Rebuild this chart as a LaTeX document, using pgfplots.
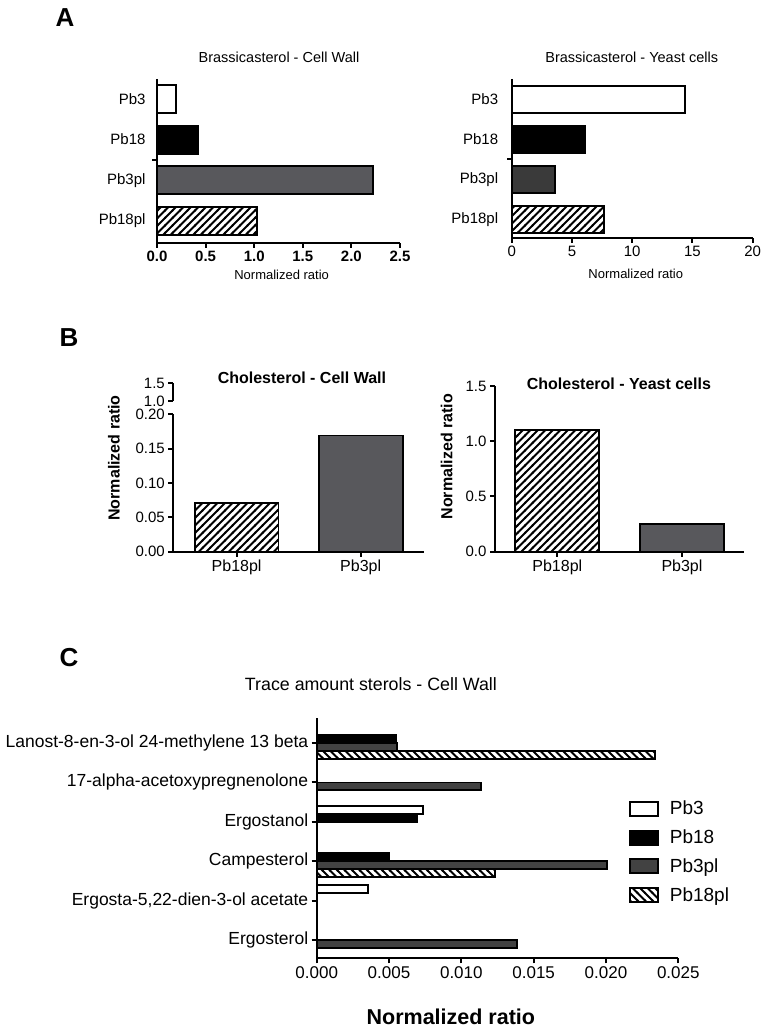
\documentclass[border=0pt]{standalone}
\usepackage{pgfplots}
\pgfplotsset{compat=1.18}
\usepackage{fontspec}
\setmainfont{Liberation Sans}
\usetikzlibrary{patterns}

\newcommand\fs[1]{\fontsize{#1}{#1}\selectfont}

\definecolor{midgray}{RGB}{88,88,92}
\definecolor{dkgray}{RGB}{58,58,58}
\definecolor{cgray}{RGB}{66,66,66}

% thick hatching like the GraphPad fills
\pgfdeclarepatternformonly{hatchNE}{\pgfqpoint{-1pt}{-1pt}}{\pgfqpoint{8.5pt}{8.5pt}}{\pgfqpoint{7.5pt}{7.5pt}}{%
  \pgfsetlinewidth{1.8pt}%
  \pgfpathmoveto{\pgfqpoint{-1pt}{-1pt}}%
  \pgfpathlineto{\pgfqpoint{8.5pt}{8.5pt}}%
  \pgfusepath{stroke}}
\pgfdeclarepatternformonly{hatchNW}{\pgfqpoint{-1pt}{-1pt}}{\pgfqpoint{8.5pt}{8.5pt}}{\pgfqpoint{7.5pt}{7.5pt}}{%
  \pgfsetlinewidth{1.8pt}%
  \pgfpathmoveto{\pgfqpoint{-1pt}{8.5pt}}%
  \pgfpathlineto{\pgfqpoint{8.5pt}{-1pt}}%
  \pgfusepath{stroke}}

\pgfplotsset{
  gp/.style={
    scale only axis, anchor=south west,
    axis x line*=bottom, axis y line*=left,
    axis line style={line width=2pt, -},
    tick style={line width=2pt, black},
    major tick length=5pt,
    tick align=outside,
    every axis title shift=0pt,
    /pgf/number format/assume math mode=true,
    clip=false,
  },
  bars/.style={draw=black, line width=1.8pt},
}

\begin{document}
\begin{tikzpicture}[x=1pt, y=1pt]
\useasboundingbox (0,0) rectangle (762,1028);

% panel letters
\node[font=\fs{26}\bfseries] at (65,1010.5) {A};
\node[font=\fs{26}\bfseries] at (69,690) {B};
\node[font=\fs{26}\bfseries] at (69,370.5) {C};

% ---- A: Brassicasterol - Cell Wall
\begin{axis}[gp, at={(157pt,785pt)}, width=243pt, height=164pt,
  xbar, bar width=0.69, bar shift=0pt,
  xmin=0, xmax=2.5, ymin=-0.49, ymax=3.54, y dir=reverse,
  xtick={0,0.5,1,1.5,2,2.5},
  xticklabel style={font=\fs{15}\bfseries, /pgf/number format/.cd, fixed, fixed zerofill, precision=1},
  ytick={0,1,2,3}, yticklabels={Pb3,Pb18,Pb3pl,Pb18pl},
  ytick style={draw=none}, yticklabel style={font=\fs{15}, xshift=-3pt},
  title={Brassicasterol - Cell Wall},
  title style={font=\fs{14.5}, at={(axis description cs:0.502,1.134)}, anchor=center},
  xlabel={Normalized ratio},
  xlabel style={font=\fs{13}, at={(axis description cs:0.513,-0.195)}, anchor=center},
]
\addplot[bars, fill=white] coordinates {(0.195,0)};
\addplot[bars, fill=black] coordinates {(0.42,1)};
\addplot[bars, fill=midgray] coordinates {(2.225,2)};
\addplot[bars, pattern=hatchNE] coordinates {(1.025,3)};
\draw[line width=2pt] (axis cs:0,1.5) -- ++(-5pt,0pt);
\end{axis}

% ---- A: Brassicasterol - Yeast cells
\begin{axis}[gp, at={(511.7pt,790pt)}, width=241pt, height=159pt,
  xbar, bar width=0.68, bar shift=0pt,
  xmin=0, xmax=20, ymin=-0.51, ymax=3.47, y dir=reverse,
  xtick={0,5,10,15,20}, xticklabel style={font=\fs{15}},
  ytick={0,1,2,3}, yticklabels={Pb3,Pb18,Pb3pl,Pb18pl},
  ytick style={draw=none}, yticklabel style={font=\fs{15}, xshift=-5pt},
  title={Brassicasterol - Yeast cells},
  title style={font=\fs{14.5}, at={(axis description cs:0.498,1.138)}, anchor=center},
  xlabel={Normalized ratio},
  xlabel style={font=\fs{13}, at={(axis description cs:0.515,-0.228)}, anchor=center},
]
\addplot[bars, fill=white] coordinates {(14.38,0)};
\addplot[bars, fill=black] coordinates {(6.1,1)};
\addplot[bars, fill=dkgray] coordinates {(3.6,2)};
\addplot[bars, pattern=hatchNE] coordinates {(7.69,3)};
\draw[line width=2pt] (axis cs:0,1.5) -- ++(-5pt,0pt);
\end{axis}

% ---- B: Cholesterol - Cell Wall (broken y axis)
\begin{axis}[gp, at={(173.3pt,476.3pt)}, width=250.7pt, height=137.4pt,
  ybar, bar width=0.676, bar shift=0pt,
  xmin=-0.51, xmax=1.51, ymin=0, ymax=0.2,
  xtick={0,1}, xticklabels={Pb18pl,Pb3pl}, xticklabel style={font=\fs{16}},
  ytick={0,0.05,0.1,0.15,0.2},
  yticklabel style={font=\fs{15}, /pgf/number format/.cd, fixed, fixed zerofill, precision=2},
  title={Cholesterol - Cell Wall},
  title style={font=\fs{16}\bfseries, at={(axis description cs:0.513,1.266)}, anchor=center},
  ylabel={Normalized ratio},
  ylabel style={font=\fs{16}\bfseries, at={(axis description cs:-0.237,0.682)}, anchor=center},
]
\addplot[bars, pattern=hatchNE] coordinates {(0,0.0714)};
\addplot[bars, fill=midgray] coordinates {(1,0.169)};
\end{axis}
\begin{axis}[gp, at={(173.3pt,627pt)}, width=250.7pt, height=17.7pt,
  hide x axis, xmin=0, xmax=1, ymin=1, ymax=1.5,
  ytick={1,1.5},
  yticklabel style={font=\fs{15}, /pgf/number format/.cd, fixed, fixed zerofill, precision=1},
]
\end{axis}

% ---- B: Cholesterol - Yeast cells
\begin{axis}[gp, at={(495pt,476.3pt)}, width=249.3pt, height=165.7pt,
  ybar, bar width=0.674, bar shift=0pt,
  xmin=-0.5, xmax=1.5, ymin=0, ymax=1.5,
  xtick={0,1}, xticklabels={Pb18pl,Pb3pl}, xticklabel style={font=\fs{16}},
  ytick={0,0.5,1,1.5},
  yticklabel style={font=\fs{15}, /pgf/number format/.cd, fixed, fixed zerofill, precision=1},
  title={Cholesterol - Yeast cells},
  title style={font=\fs{16}\bfseries, at={(axis description cs:0.497,1.012)}, anchor=center},
  ylabel={Normalized ratio},
  ylabel style={font=\fs{16}\bfseries, at={(axis description cs:-0.194,0.573)}, anchor=center},
]
\addplot[bars, pattern=hatchNE] coordinates {(0,1.10)};
\addplot[bars, fill=midgray] coordinates {(1,0.25)};
\end{axis}

% ---- C: Trace amount sterols - Cell Wall
\begin{axis}[gp, at={(316.7pt,69.7pt)}, width=361.6pt, height=240pt,
  xbar, bar width=0.2,
  xmin=0, xmax=0.025, ymin=-0.627, ymax=5.464, y dir=reverse,
  xtick={0,0.005,0.01,0.015,0.02,0.025}, scaled x ticks=false,
  xticklabel style={font=\fs{17}, /pgf/number format/.cd, fixed, fixed zerofill, precision=3},
  ytick={0,1,2,3,4,5},
  yticklabels={Lanost-8-en-3-ol 24-methylene 13 beta,17-alpha-acetoxypregnenolone,Ergostanol,Campesterol,{Ergosta-5,22-dien-3-ol acetate},Ergosterol},
  yticklabel style={font=\fs{17.5}},
  title={Trace amount sterols - Cell Wall},
  title style={font=\fs{17.8}, at={(axis description cs:0.150,1.143)}, anchor=center},
  xlabel={Normalized ratio},
  xlabel style={font=\fs{21.5}\bfseries, at={(axis description cs:0.371,-0.243)}, anchor=center},
  legend image code/.code={\draw[#1, line width=1.8pt] (0pt,-7pt) rectangle (28pt,7pt);},
  legend cell align=left,
  legend style={at={(axis description cs:0.855,0.672)}, anchor=north west, draw=none, fill=none,
    font=\fs{19}, row sep=9.5pt, /tikz/every odd column/.append style={column sep=9pt}},
]
\addplot[bars, fill=white, bar shift=-0.3] coordinates {(0.00737,2) (0.00357,4)};
\addlegendentry{Pb3}
\addplot[bars, fill=black, bar shift=-0.1] coordinates {(0.00548,0) (0.00696,2) (0.00502,3)};
\addlegendentry{Pb18}
\addplot[bars, fill=cgray, bar shift=0.1] coordinates {(0.00553,0) (0.01136,1) (0.02009,3) (0.01387,5)};
\addlegendentry{Pb3pl}
\addplot[bars, pattern=hatchNW, bar shift=0.3] coordinates {(0.02341,0) (0.01231,3)};
\addlegendentry{Pb18pl}
\end{axis}
\end{tikzpicture}
\end{document}
